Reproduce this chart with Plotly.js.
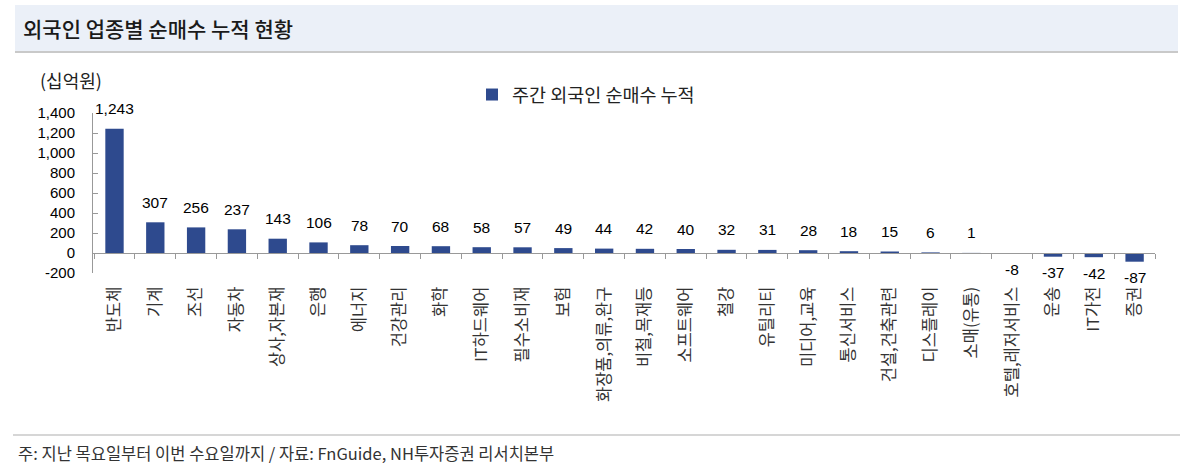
<!DOCTYPE html>
<html>
<head>
<meta charset="utf-8">
<script src="https://cdn.plot.ly/plotly-3.0.1.min.js"></script>
<style>
  html, body { margin: 0; padding: 0; background: #fff; }
  #chart { width: 1198px; height: 473px; }
</style>
</head>
<body>
<div id="chart"></div>
<script>
// 업종 (categories) and weekly foreign net buying, 십억원
const sectors = ['반도체', '기계', '조선', '자동차', '상사,자본재', '은행', '에너지', '건강관리', '화학',
    'IT하드웨어', '필수소비재', '보험', '화장품,의류,완구', '비철,목재등', '소프트웨어', '철강', '유틸리티',
    '미디어,교육', '통신서비스', '건설,건축관련', '디스플레이', '소매(유통)', '호텔,레저서비스', '운송', 'IT가전', '증권'];
const netBuy = [1243, 307, 256, 237, 143, 106, 78, 70, 68, 58, 57, 49, 44, 42, 40, 32, 31, 28, 18, 15, 6, 1, -8, -37, -42, -87];
const yTickVals = [-200, 0, 200, 400, 600, 800, 1000, 1200, 1400];
const yTickText = ['-200', '0', '200', '400', '600', '800', '1,000', '1,200', '1,400'];

const seriesName = '주간 외국인 순매수 누적';
const chartTitle = '외국인 업종별 순매수 누적 현황';
const unitLabel = '(십억원)';
const footNote = '주: 지난 목요일부터 이번 수요일까지 / 자료: FnGuide, NH투자증권 리서치본부';

// plot area in pixels
const L = 93, R = 1155, T = 113, B = 273;
const px = x => (x - L) / (R - L);
const py = y => (B - y) / (B - T);

const NUM_FONT = 'Liberation Sans, Arial, Noto Sans CJK KR';
const KR_FONT = 'Noto Sans CJK KR, Liberation Sans';

const trace = {
    type: 'bar',
    x: sectors,
    y: netBuy,
    name: seriesName,
    width: 0.45,
    marker: { color: '#2E4A8E' },
    hoverinfo: 'x+y'
};

// value labels, offset from the bar end like the original
const valueLabels = netBuy.map((v, i) => ({
    x: sectors[i],
    y: v,
    xref: 'x',
    yref: 'y',
    text: v.toLocaleString('en-US'),
    showarrow: false,
    yanchor: 'middle',
    yshift: v >= 0 ? 20 : -16,
    font: { family: NUM_FONT, size: 15.5, color: '#000' }
}));

const layout = {
    width: 1198,
    height: 473,
    margin: { l: L, r: 1198 - R, t: T, b: 473 - B },
    paper_bgcolor: '#fff',
    plot_bgcolor: 'rgba(0,0,0,0)',
    font: { family: NUM_FONT, size: 15, color: '#000' },
    showlegend: true,
    legend: {
        orientation: 'h',
        x: px(472), xanchor: 'left',
        y: py(95), yanchor: 'middle',
        font: { family: KR_FONT, size: 18.5, color: '#222' },
        bgcolor: 'rgba(0,0,0,0)'
    },
    xaxis: {
        type: 'category',
        anchor: 'free',
        position: 200 / 1600,
        showline: true,
        linecolor: '#999',
        linewidth: 1,
        ticks: 'outside',
        tickson: 'boundaries',
        ticklen: 5,
        tickcolor: '#999',
        tickangle: -90,
        ticklabelstandoff: 26,
        tickfont: { family: KR_FONT, size: 16.5, color: '#333' },
        showgrid: false,
        zeroline: false,
        fixedrange: true
    },
    yaxis: {
        range: [-200, 1400],
        tickvals: yTickVals,
        ticktext: yTickText,
        showline: true,
        linecolor: '#999',
        linewidth: 1,
        ticks: 'inside',
        ticklen: 5,
        tickcolor: '#999',
        ticklabelstandoff: 14,
        tickfont: { family: NUM_FONT, size: 15, color: '#000' },
        showgrid: false,
        zeroline: false,
        fixedrange: true
    },
    shapes: [
        { type: 'rect', xref: 'paper', yref: 'paper', layer: 'below',
          x0: px(15), x1: px(1178), y0: py(52), y1: py(5),
          fillcolor: '#EBF0F8', line: { width: 0 } },
        { type: 'line', xref: 'paper', yref: 'paper',
          x0: px(15), x1: px(1178), y0: py(52), y1: py(52),
          line: { color: '#C9C9C9', width: 2 } },
        { type: 'line', xref: 'paper', yref: 'paper',
          x0: px(13), x1: px(1180), y0: py(435), y1: py(435),
          line: { color: '#C9C9C9', width: 1.5 } }
    ],
    annotations: [
        { text: chartTitle, xref: 'paper', yref: 'paper', x: px(21), y: py(28),
          xanchor: 'left', yanchor: 'middle', showarrow: false,
          font: { family: KR_FONT, size: 21, color: '#1A1A1A', weight: 500 } },
        { text: unitLabel, xref: 'paper', yref: 'paper', x: px(38), y: py(80),
          xanchor: 'left', yanchor: 'middle', showarrow: false,
          font: { family: KR_FONT, size: 18, color: '#222' } },
        { text: footNote, xref: 'paper', yref: 'paper', x: px(16), y: py(453),
          xanchor: 'left', yanchor: 'middle', showarrow: false,
          font: { family: KR_FONT, size: 16.5, color: '#333' } }
    ].concat(valueLabels)
};

Plotly.newPlot('chart', [trace], layout, { displayModeBar: false, staticPlot: true });
</script>
</body>
</html>
